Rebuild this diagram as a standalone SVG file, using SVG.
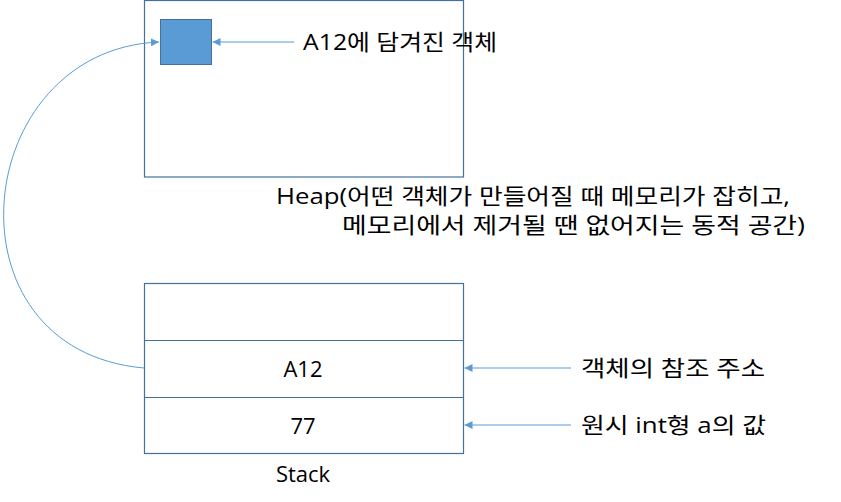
<svg xmlns="http://www.w3.org/2000/svg" width="841" height="502" viewBox="0 0 841 502">
<defs>
<style>
.box{fill:#fff;stroke:#41719c;stroke-width:1.2}
.con{fill:none;stroke:#5b9bd5;stroke-width:1}
.t{font-family:"Open Sans","Noto Sans CJK KR",sans-serif;font-size:22px;fill:#000}
</style>
<marker id="ah" viewBox="0 0 10 10" refX="10" refY="5" markerWidth="8" markerHeight="8" markerUnits="userSpaceOnUse" orient="auto">
<path d="M0,0 L10,5 L0,10 Z" fill="#5b9bd5"/>
</marker>
</defs>
<rect width="841" height="502" fill="#fff"/>
<g id="heap">
<rect class="box" x="144.5" y="0.5" width="319" height="176.5"/>
<text class="t" x="276" y="204" textLength="514" lengthAdjust="spacingAndGlyphs">Heap(어떤 객체가 만들어질 때 메모리가 잡히고,</text>
<text class="t" x="342" y="233" textLength="463" lengthAdjust="spacingAndGlyphs">메모리에서 제거될 땐 없어지는 동적 공간)</text>
</g>
<g id="object">
<rect x="160.5" y="19.5" width="51" height="45" fill="#5b9bd5" stroke="#41719c" stroke-width="1"/>
</g>
<g id="objlabel">
<text class="t" x="303" y="50" textLength="194" lengthAdjust="spacingAndGlyphs">A12에 담겨진 객체</text>
</g>
<g id="stack">
<rect class="box" x="144.5" y="283.5" width="319" height="170"/>
<line class="box" x1="144.5" y1="340.5" x2="463.5" y2="340.5"/>
<line class="box" x1="144.5" y1="397.5" x2="463.5" y2="397.5"/>
<text class="t" x="303" y="377" text-anchor="middle">A12</text>
<text class="t" x="303" y="434" text-anchor="middle">77</text>
<text class="t" x="303" y="482" text-anchor="middle">Stack</text>
</g>
<g id="reflabel">
<text class="t" x="581" y="376" textLength="184" lengthAdjust="spacingAndGlyphs">객체의 참조 주소</text>
</g>
<g id="vallabel">
<text class="t" x="581" y="433" textLength="185" lengthAdjust="spacingAndGlyphs">원시 int형 a의 값</text>
</g>
<g id="connectors">
<path class="con" d="M144,368 C-60,350 -30,50 159,42" marker-end="url(#ah)"/>
<line class="con" x1="294" y1="42" x2="212.5" y2="42" marker-end="url(#ah)"/>
<line class="con" x1="571" y1="368" x2="464.5" y2="368" marker-end="url(#ah)"/>
<line class="con" x1="571" y1="425" x2="464.5" y2="425" marker-end="url(#ah)"/>
</g>
</svg>
